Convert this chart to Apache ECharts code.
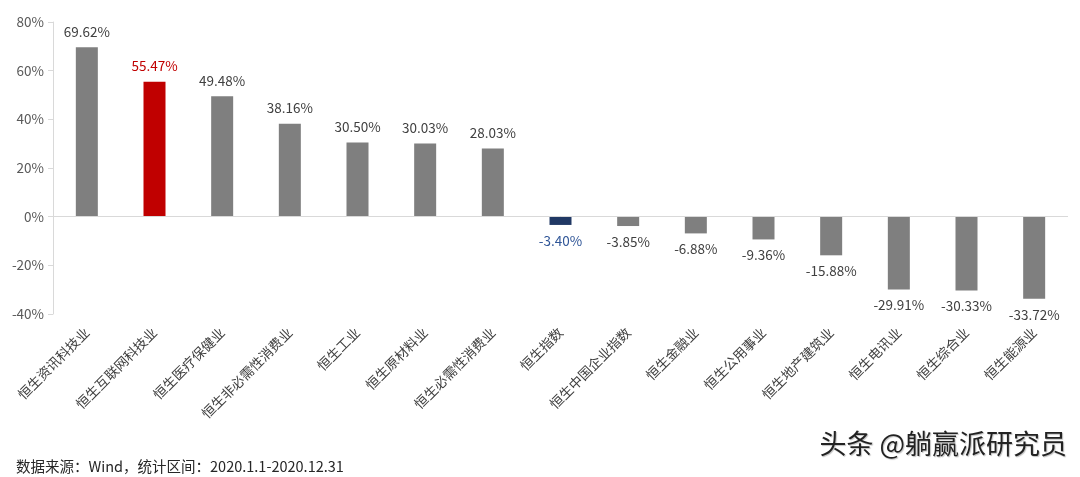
<!DOCTYPE html>
<html><head><meta charset="utf-8">
<script src="https://cdn.jsdelivr.net/npm/echarts@6/dist/echarts.min.js"></script>
<style>html,body{margin:0;padding:0;background:#fff}#c{width:1080px;height:477px}</style>
</head><body><div id="c"></div>
<script>
const categories = ['恒生资讯科技业','恒生互联网科技业','恒生医疗保健业','恒生非必需性消费业','恒生工业','恒生原材料业','恒生必需性消费业','恒生指数','恒生中国企业指数','恒生金融业','恒生公用事业','恒生地产建筑业','恒生电讯业','恒生综合业','恒生能源业'];
const values = [69.62,55.47,49.48,38.16,30.50,30.03,28.03,-3.40,-3.85,-6.88,-9.36,-15.88,-29.91,-30.33,-33.72];
const yTicks = [-40,-20,0,20,40,60,80];
const barColors = {1:'#c00000',7:'#203864'};
const labelColors = {1:'#c00000',7:'#2f5597'};
const FONT = '"Microsoft YaHei","Noto Sans CJK SC",sans-serif';

const chart = echarts.init(document.getElementById('c'));
const data = values.map((v,i)=>({
  value:v,
  itemStyle:{color:barColors[i]||'#7f7f7f'},
  label:{position:v<0?'bottom':'top',color:labelColors[i]||'#404040'}
}));
chart.setOption({
  animation:false,
  grid:{left:53,right:12,top:22,bottom:163},
  xAxis:{type:'category',data:categories,
    axisLine:{show:false,onZero:false},axisTick:{show:false},
    axisLabel:{interval:0,rotate:45,margin:16,fontSize:13.5,color:'#404040',fontFamily:FONT}},
  yAxis:{type:'value',min:yTicks[0],max:yTicks[yTicks.length-1],interval:20,
    splitLine:{show:false},
    axisLine:{show:true,lineStyle:{color:'#d9d9d9'}},
    axisTick:{show:true,length:5,lineStyle:{color:'#d9d9d9'}},
    axisLabel:{formatter:'{value}%',fontSize:13.5,color:'#595959',margin:9,fontFamily:FONT}},
  series:[{type:'bar',data:data,barWidth:22,
    label:{show:true,distance:9,fontSize:13.5,fontFamily:FONT,formatter:p=>p.value.toFixed(2)+'%'},
    markLine:{silent:true,symbol:'none',label:{show:false},
      lineStyle:{color:'#d9d9d9',type:'solid',width:1},data:[{yAxis:0}]}}],
  graphic:[
    {type:'text',left:16,top:459,style:{text:'数据来源：Wind，统计区间：2020.1.1-2020.12.31',fontSize:14.5,fill:'#262626',fontFamily:FONT}},
    {type:'text',right:13,top:430,style:{text:'头条 @躺赢派研究员',fontSize:27,fill:'#222',fontFamily:FONT,textShadowColor:'rgba(0,0,0,0.25)',textShadowOffsetX:1,textShadowOffsetY:1,textShadowBlur:1}}
  ]
});
</script></body></html>
